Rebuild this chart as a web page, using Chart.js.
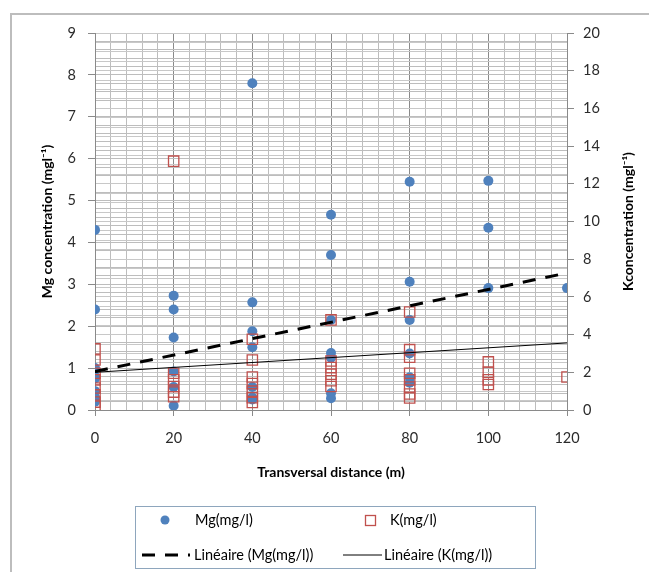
<!DOCTYPE html>
<html><head><meta charset="utf-8">
<script src="https://cdn.jsdelivr.net/npm/chart.js@4/dist/chart.umd.min.js"></script>
<style>html,body{margin:0;padding:0;background:#fff;}#wrap{width:649px;height:572px;}</style>
</head><body><div id="wrap"><canvas id="c" width="649" height="572"></canvas></div>
<script>
// ---- data ----
const distances = [0, 20, 40, 60, 80, 100, 120];
const mgValues = [
  [4.3, 2.4, 1.0, 0.8, 0.75, 0.45, 0.3, 0.2],
  [2.73, 2.4, 1.73, 0.92, 0.55, 0.1],
  [7.8, 2.57, 1.88, 1.5, 0.55, 0.3, 0.25],
  [4.66, 3.7, 2.15, 1.36, 1.25, 0.4, 0.28],
  [5.45, 3.06, 2.15, 1.35, 0.78, 0.65],
  [5.47, 4.35, 2.91],
  [2.91]
];
const kValues = [
  [3.24, 2.65, 1.95, 1.6, 1.17, 0.8, 0.42, 0.2],
  [13.2, 1.95, 1.6, 1.25, 0.95, 0.7],
  [3.75, 2.65, 1.75, 1.4, 1.0, 0.65, 0.4],
  [4.78, 2.6, 2.25, 1.9, 1.55, 1.25],
  [5.2, 3.2, 2.8, 1.95, 1.6, 1.22, 0.85, 0.64],
  [2.55, 2.0, 1.6, 1.35],
  [1.75]
];
const trendX = [0, 120];
const mgTrend = [0.92, 3.27];
const kTrend = [2.0, 3.56];
const xTickLabels = [0, 20, 40, 60, 80, 100, 120];
const mgTickLabels = [0, 1, 2, 3, 4, 5, 6, 7, 8, 9];
const kTickLabels = [0, 2, 4, 6, 8, 10, 12, 14, 16, 18, 20];
const seriesLabels = ['Mg(mg/l)', 'K(mg/l)', 'Linéaire (Mg(mg/l))', 'Linéaire (K(mg/l))'];
const axisTitles = ['Transversal distance (m)', 'Mg concentration (mgl⁻¹)', 'Kconcentration (mgl⁻¹)'];

// ---- build points ----
const toPts = (vals) => distances.flatMap((d, i) => vals[i].map(v => ({x: d, y: v})));
const mgPts = toPts(mgValues);
const kPts = toPts(kValues);
const mgTrendPts = trendX.map((x, i) => ({x, y: mgTrend[i]}));
const kTrendPts = trendX.map((x, i) => ({x, y: kTrend[i]}));

const FONT = 'Lato, Carlito, "Open Sans", sans-serif';
const MG_COLOR = '#4f81bd';
const K_COLOR = '#c0504d';
const GRID = '#bdbdbd';
const GRID_DARK = '#8a8a8a';
const near = (v, list) => list.some(t => Math.abs(v - t) < 1e-6);

const framePlugin = {
  id: 'frame',
  beforeDraw(chart) {
    const c = chart.ctx;
    c.save();
    c.fillStyle = '#fff';
    c.fillRect(0, 0, chart.width, chart.height);
    c.strokeStyle = '#bdbdbd';
    c.lineWidth = 2;
    c.strokeRect(11, 14, 700, 620);
    c.restore();
  }
};

const rightTitlePlugin = {
  id: 'rightTitle',
  afterDraw(chart) {
    const c = chart.ctx;
    const a = chart.chartArea;
    c.save();
    c.translate(628, (a.top + a.bottom) / 2);
    c.rotate(-Math.PI / 2);
    c.font = 'bold 14px ' + FONT;
    c.fillStyle = '#000';
    c.textAlign = 'center';
    c.textBaseline = 'middle';
    c.fillText(axisTitles[2], 0, 0);
    c.restore();
  }
};

const legendPlugin = {
  id: 'boxLegend',
  afterDraw(chart) {
    const c = chart.ctx;
    const ds = chart.data.datasets;
    c.save();
    c.strokeStyle = '#8ea6bd';
    c.lineWidth = 1;
    c.strokeRect(135.5, 506.5, 400, 62);
    c.font = '14.5px ' + FONT;
    c.textBaseline = 'middle';
    c.textAlign = 'left';
    // row 1
    c.fillStyle = MG_COLOR;
    c.beginPath(); c.arc(165, 520, 4.5, 0, Math.PI * 2); c.fill();
    c.fillStyle = '#000';
    c.fillText(ds[1].label, 195, 520);
    c.strokeStyle = K_COLOR; c.lineWidth = 1.3;
    c.strokeRect(365.5, 515.5, 10, 10);
    c.fillText(ds[0].label, 390, 520);
    // row 2
    c.strokeStyle = '#000';
    c.lineWidth = 3;
    c.setLineDash([13, 10]);
    c.beginPath(); c.moveTo(142, 555); c.lineTo(190, 555); c.stroke();
    c.setLineDash([]);
    c.fillText(ds[2].label, 194, 555);
    c.lineWidth = 1;
    c.beginPath(); c.moveTo(343, 555); c.lineTo(382, 555); c.stroke();
    c.fillText(ds[3].label, 384, 555);
    c.restore();
  }
};

new Chart(document.getElementById('c'), {
  type: 'scatter',
  data: {
    datasets: [
      {label: seriesLabels[1], data: kPts, yAxisID: 'yK', order: 1,
       pointStyle: 'rect', pointRadius: 7.3, pointBorderColor: K_COLOR, pointBackgroundColor: 'rgba(0,0,0,0)', pointBorderWidth: 1.3},
      {label: seriesLabels[0], data: mgPts, yAxisID: 'yMg', order: 2,
       pointStyle: 'circle', pointRadius: 5, pointBackgroundColor: MG_COLOR, pointBorderColor: MG_COLOR, pointBorderWidth: 0},
      {label: seriesLabels[2], data: mgTrendPts, yAxisID: 'yMg', order: 0, type: 'line', showLine: true,
       borderColor: '#000', borderWidth: 3, borderDash: [13, 10], pointRadius: 0, fill: false},
      {label: seriesLabels[3], data: kTrendPts, yAxisID: 'yK', order: 0, type: 'line', showLine: true,
       borderColor: '#000', borderWidth: 1, pointRadius: 0, fill: false}
    ]
  },
  options: {
    responsive: false,
    animation: false,
    devicePixelRatio: 1,
    layout: {padding: {top: 33, bottom: 82, left: 0, right: 0}},
    plugins: {legend: {display: false}, tooltip: {enabled: false}},
    scales: {
      x: {
        type: 'linear', min: 0, max: 120,
        afterFit: s => { s.height = 80; },
        ticks: {stepSize: 4, autoSkip: false, maxRotation: 0, padding: 14, color: '#2b2b2b',
                font: {family: FONT, size: 14.5},
                callback: v => near(v, xTickLabels) ? Math.round(v) : ''},
        grid: {color: ctx => (ctx.tick && near(ctx.tick.value, xTickLabels)) ? GRID_DARK : GRID,
               tickColor: ctx => (ctx.tick && near(ctx.tick.value, xTickLabels)) ? GRID_DARK : 'rgba(0,0,0,0)',
               tickLength: 6, lineWidth: 1},
        border: {color: GRID_DARK},
        title: {display: true, text: axisTitles[0], color: '#000',
                font: {family: FONT, size: 14, weight: 'bold'}, padding: {top: 0, bottom: 9}}
      },
      yMg: {
        type: 'linear', position: 'left', min: 0, max: 9,
        afterFit: s => { s.width = 95; },
        ticks: {stepSize: 0.2, autoSkip: false, padding: 12, color: '#2b2b2b',
                font: {family: FONT, size: 14.5},
                callback: v => near(v, mgTickLabels) ? Math.round(v) : ''},
        grid: {color: GRID, lineWidth: 1,
               tickColor: ctx => (ctx.tick && near(ctx.tick.value, mgTickLabels)) ? GRID_DARK : 'rgba(0,0,0,0)',
               tickLength: 7},
        border: {color: GRID_DARK},
        title: {display: true, text: axisTitles[1], color: '#000',
                font: {family: FONT, size: 14, weight: 'bold'}, padding: {top: 39, bottom: 0}}
      },
      yK: {
        type: 'linear', position: 'right', min: 0, max: 20,
        afterFit: s => { s.width = 82; },
        ticks: {stepSize: 0.5, autoSkip: false, padding: 9, color: '#2b2b2b',
                font: {family: FONT, size: 14.5},
                callback: v => near(v, kTickLabels) ? Math.round(v) : ''},
        grid: {color: '#c8c8c8', lineWidth: 1,
               tickColor: ctx => (ctx.tick && near(ctx.tick.value, kTickLabels)) ? GRID_DARK : 'rgba(0,0,0,0)',
               tickLength: 7},
        border: {color: GRID_DARK},
        title: {display: false}
      }
    }
  },
  plugins: [framePlugin, rightTitlePlugin, legendPlugin]
});
</script>
</body></html>
